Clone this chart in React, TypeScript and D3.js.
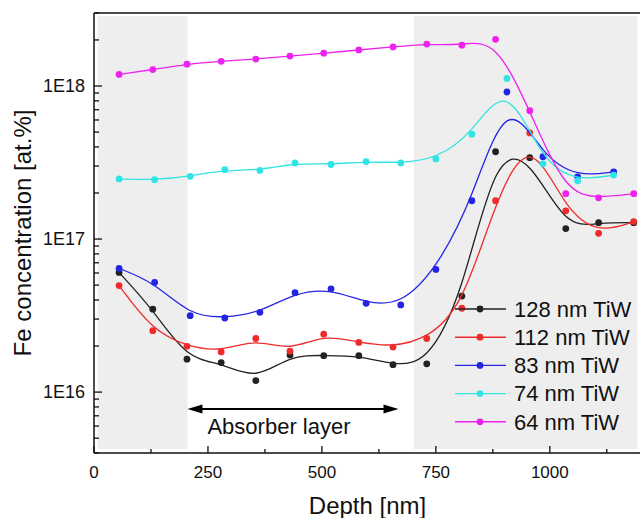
import React from 'react';
import * as d3 from 'd3';

// depth positions (nm) – two sampling grids
const depthA = [55, 129, 204, 279, 355, 430, 504, 581, 656, 730, 807, 881, 956, 1035, 1107, 1184];
const depthB = [55, 133, 211, 287, 364, 441, 520, 597, 673, 750, 829, 906, 985, 1061, 1140];

// Fe concentration per TiW thickness
const fe128 = [6.05e16, 3.48e16, 1.64e16, 1.56e16, 1.19e16, 1.75e16, 1.73e16, 1.73e16, 1.51e16, 1.53e16, 4.24e16, 3.72e17, 3.4e17, 1.17e17, 1.28e17, 1.28e17];
const fe112 = [4.97e16, 2.52e16, 1.99e16, 1.83e16, 2.24e16, 1.85e16, 2.39e16, 2.11e16, 1.97e16, 2.24e16, 3.53e16, 1.78e17, 4.94e17, 1.53e17, 1.09e17, 1.3e17];
const fe83 = [6.43e16, 5.2e16, 3.16e16, 3.05e16, 3.32e16, 4.46e16, 4.73e16, 3.8e16, 3.71e16, 6.33e16, 1.78e17, 9.14e17, 3.45e17, 2.55e17, 2.75e17];
const fe74 = [2.47e17, 2.44e17, 2.57e17, 2.84e17, 2.81e17, 3.14e17, 3.07e17, 3.21e17, 3.14e17, 3.34e17, 4.84e17, 1.12e18, 3.1e17, 2.4e17, 2.62e17];
const fe64 = [1.19e18, 1.28e18, 1.39e18, 1.45e18, 1.5e18, 1.57e18, 1.64e18, 1.72e18, 1.8e18, 1.88e18, 1.85e18, 2.02e18, 6.9e17, 1.98e17, 1.86e17, 1.98e17];

const seriesNames = ['128 nm TiW', '112 nm TiW', '83 nm TiW', '74 nm TiW', '64 nm TiW'];
const seriesColors = ['#222222', '#ef2b2b', '#2424e6', '#30e4e4', '#ee22ee'];

const xTicks = [0, 250, 500, 750, 1000];
const yTicks = [1e16, 1e17, 1e18];
const shadeRanges = [[8, 205], [702, 1192]];
const absorberRange = [205, 668];

const font = '"Liberation Sans", Arial, sans-serif';
const W = 640;
const H = 518;

const x = d3.scaleLinear().domain([0, 1200]).range([94, 641]);
const y = d3.scaleLog().domain([4e15, 3e18]).range([453, 13]);

const line = d3
  .line<[number, number]>()
  .x(d => x(d[0]))
  .y(d => y(d[1]))
  .curve(d3.curveBasis);

export default function App() {
  const series = [
    { depth: depthA, values: fe128 },
    { depth: depthA, values: fe112 },
    { depth: depthB, values: fe83 },
    { depth: depthB, values: fe74 },
    { depth: depthA, values: fe64 },
  ].map((s, i) => ({
    name: seriesNames[i],
    color: seriesColors[i],
    points: s.depth.map((d, j) => [d, s.values[j]] as [number, number]),
  }));

  const [x0, x1] = x.range();
  const [yb, yt] = y.range();

  const minorX = d3.range(125, 1200, 250);
  const minorY: number[] = [];
  for (let e = 15; e <= 18; e++) {
    for (let k = 2; k <= 9; k++) {
      const v = k * Math.pow(10, e);
      if (v >= 4e15 && v <= 3e18) minorY.push(v);
    }
  }

  const arrowY = yb - 44;

  return (
    <svg width={W} height={H} style={{ position: 'absolute', left: 0, top: 0, background: '#fff' }}>
      {shadeRanges.map((r, i) => (
        <rect
          key={i}
          x={x(r[0])}
          y={yt + 3}
          width={x(r[1]) - x(r[0])}
          height={yb - yt - 7}
          fill="#eeeeee"
        />
      ))}

      {/* fitted curves + points */}
      {series.map(s => (
        <g key={s.name}>
          <path d={line(s.points) || ''} fill="none" stroke={s.color} strokeWidth={1.3} />
          {s.points.map((p, j) => (
            <circle key={j} cx={x(p[0])} cy={y(p[1])} r={3.4} fill={s.color} />
          ))}
        </g>
      ))}

      {/* absorber arrow */}
      <g>
        <line
          x1={x(absorberRange[0]) + 10}
          x2={x(absorberRange[1]) - 10}
          y1={arrowY}
          y2={arrowY}
          stroke="#000"
          strokeWidth={2}
        />
        <path
          d={`M${x(absorberRange[0])},${arrowY} l15,-4.5 l0,9 z`}
          fill="#000"
        />
        <path
          d={`M${x(absorberRange[1])},${arrowY} l-15,-4.5 l0,9 z`}
          fill="#000"
        />
        <text x={x(absorberRange[0]) + 20} y={arrowY + 25} fontFamily={font} fontSize={22} fill="#111">
          Absorber layer
        </text>
      </g>

      {/* legend */}
      {series.map((s, i) => {
        const ly = 309 + i * 28.2;
        return (
          <g key={s.name}>
            <line x1={455} x2={506} y1={ly} y2={ly} stroke={s.color} strokeWidth={1.4} />
            <circle cx={480} cy={ly} r={3.4} fill={s.color} />
            <text x={514} y={ly} dy="0.35em" fontFamily={font} fontSize={22} fill="#111">
              {s.name}
            </text>
          </g>
        );
      })}

      {/* frame */}
      <line x1={x0} x2={x0} y1={yt} y2={yb} stroke="#111" strokeWidth={1.5} />
      <line x1={x0} x2={x1} y1={yb} y2={yb} stroke="#111" strokeWidth={1.5} />
      <line x1={x0} x2={x1} y1={yt} y2={yt} stroke="#111" strokeWidth={1.5} />

      {/* x ticks */}
      {xTicks.map(t => (
        <g key={t}>
          <line x1={x(t)} x2={x(t)} y1={yb} y2={yb - 7} stroke="#111" strokeWidth={1.3} />
          <text x={x(t)} y={yb + 25} textAnchor="middle" fontFamily={font} fontSize={17} fill="#111">
            {t}
          </text>
        </g>
      ))}
      {minorX.map(t => (
        <line key={t} x1={x(t)} x2={x(t)} y1={yb} y2={yb - 4} stroke="#111" strokeWidth={1.3} />
      ))}

      {/* y ticks */}
      {yTicks.map(t => (
        <g key={t}>
          <line x1={x0} x2={x0 + 8} y1={y(t)} y2={y(t)} stroke="#111" strokeWidth={1.3} />
          <text x={x0 - 9} y={y(t)} dy="0.35em" textAnchor="end" fontFamily={font} fontSize={18} fill="#111">
            {'1E' + Math.round(Math.log10(t))}
          </text>
        </g>
      ))}
      {minorY.map(t => (
        <line key={t} x1={x0} x2={x0 + 5} y1={y(t)} y2={y(t)} stroke="#111" strokeWidth={1.3} />
      ))}

      {/* axis titles */}
      <text x={(x0 + x1) / 2} y={514} textAnchor="middle" fontFamily={font} fontSize={24} fill="#111">
        Depth [nm]
      </text>
      <text
        transform={`translate(31,${(yt + yb) / 2}) rotate(-90)`}
        textAnchor="middle"
        fontFamily={font}
        fontSize={24}
        fill="#111"
      >
        Fe concentration [at.%]
      </text>
    </svg>
  );
}
